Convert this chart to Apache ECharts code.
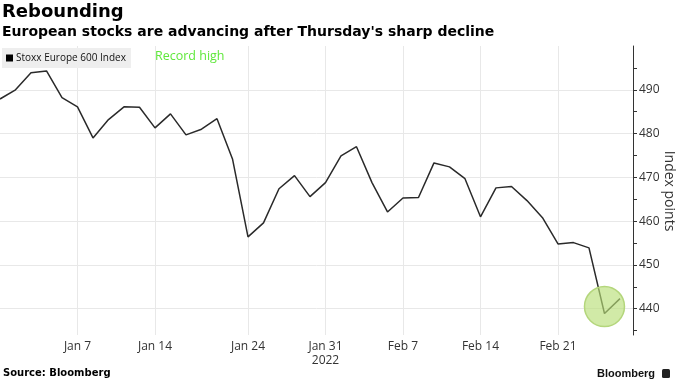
<!DOCTYPE html>
<html><head><meta charset="utf-8">
<script src="https://cdn.jsdelivr.net/npm/echarts@6/dist/echarts.min.js"></script>
<style>html,body{margin:0;padding:0;background:#fff}#c{width:679px;height:382px}</style>
</head><body><div id="c"></div>
<script>
const dates = ['Dec 31','Jan 3','Jan 4','Jan 5','Jan 6','Jan 7','Jan 10','Jan 11','Jan 12','Jan 13','Jan 14',
 'Jan 17','Jan 18','Jan 19','Jan 20','Jan 21','Jan 24','Jan 25','Jan 26','Jan 27','Jan 28',
 'Jan 31','Feb 1','Feb 2','Feb 3','Feb 4','Feb 7','Feb 8','Feb 9','Feb 10','Feb 11',
 'Feb 14','Feb 15','Feb 16','Feb 17','Feb 18','Feb 21','Feb 22','Feb 23','Feb 24','Feb 25'];
const stoxx = [487.9,490.0,493.9,494.3,488.2,486.1,479.0,483.2,486.1,486.0,481.3,
 484.5,479.7,481.0,483.4,474.2,456.4,459.6,467.4,470.4,465.6,
 468.8,474.9,477.0,468.8,462.1,465.3,465.4,473.3,472.4,469.7,
 461.0,467.6,467.9,464.7,460.8,454.8,455.1,453.9,438.9,442.3];
const xLabelDates = ['Jan 7','Jan 14','Jan 24','Jan 31','Feb 7','Feb 14','Feb 21'];
const yLabels = [440,450,460,470,480,490];
const yTicks = [435,440,445,450,455,460,465,470,475,480,485,490,495];
const highlight = {date:'Feb 24', value:440.5};

const xLabelIdx = xLabelDates.map(d => dates.indexOf(d));
const seriesData = stoxx.map((v,i) => [i, v]);

const chart = echarts.init(document.getElementById('c'));
const axisFont = "'Open Sans', sans-serif";
const gridBox = {left:0, right:46, top:46, bottom:47, containLabel:false, outerBoundsMode:'none'};
chart.setOption({
  animation:false,
  backgroundColor:'#fff',
  title:{
    text:'Rebounding',
    subtext:"European stocks are advancing after Thursday's sharp decline",
    left:2, top:3, padding:0, itemGap:4,
    textStyle:{fontFamily:'DejaVu Sans', fontWeight:'bold', fontSize:18, color:'#000'},
    subtextStyle:{fontFamily:'DejaVu Sans', fontWeight:'bold', fontSize:14, color:'#000'}
  },
  legend:{
    left:2, top:48, padding:[5,5,5,4], backgroundColor:'#eeeeee',
    icon:'rect', itemWidth:7, itemHeight:7, itemGap:0,
    textStyle:{fontFamily:axisFont, fontSize:10, color:'#111', padding:[0,0,0,-2]},
    data:['Stoxx Europe 600 Index']
  },
  grid:[Object.assign({}, gridBox), Object.assign({}, gridBox)],
  xAxis:[{
    type:'value', gridIndex:0, min:0, max:40.84,
    axisLine:{show:false},
    axisTick:{show:false, customValues:xLabelIdx},
    axisLabel:{customValues:xLabelIdx, margin:5, fontFamily:axisFont, fontSize:12, color:'#333', lineHeight:14,
      formatter:v => { const d = dates[Math.round(v)]; return d === 'Jan 31' ? 'Jan 31\n2022' : d; }},
    splitLine:{show:true, lineStyle:{color:'#e8e8e8', width:1}}
  },{
    type:'value', gridIndex:1, min:0, max:40.84, show:false
  }],
  yAxis:[
    {type:'value', gridIndex:0, position:'right', min:434, max:500,
     axisLine:{show:false, onZero:false},
     axisTick:{show:false, customValues:yLabels},
     axisLabel:{customValues:yLabels, margin:6, fontFamily:axisFont, fontSize:12, color:'#333'},
     splitLine:{show:true, lineStyle:{color:'#e8e8e8', width:1}}},
    {type:'value', gridIndex:1, position:'right', min:434, max:500,
     axisLine:{show:true, onZero:false, lineStyle:{color:'#333', width:1}},
     axisTick:{show:true, length:4, customValues:yTicks, lineStyle:{color:'#333'}},
     axisLabel:{show:false}, splitLine:{show:false}}
  ],
  series:[{
    name:'Stoxx Europe 600 Index', type:'line', xAxisIndex:0, yAxisIndex:0, data:seriesData,
    showSymbol:false, symbol:'none',
    itemStyle:{color:'#000'},
    lineStyle:{color:'#2a2a2a', width:1.5},
    markPoint:{
      symbol:'circle', symbolSize:40, silent:true,
      label:{show:false},
      itemStyle:{color:'rgba(185,222,120,0.65)', borderColor:'#b4d67c', borderWidth:1.5},
      data:[{coord:[dates.indexOf(highlight.date), highlight.value]}]
    }
  }],
  graphic:[
    {type:'text', x:669, y:191, rotation:-Math.PI/2,
     style:{text:'Index points', align:'center', verticalAlign:'middle', fill:'#333', font:"14px 'Open Sans', sans-serif"}},
    {type:'text', left:155, top:50, style:{text:'Record high', fill:'#5fe83a', font:"12.5px 'Open Sans', sans-serif"}},
    {type:'text', left:3, top:368, style:{text:'Source: Bloomberg', fill:'#000', font:"bold 10px 'DejaVu Sans', sans-serif"}},
    {type:'text', left:597, top:368, style:{text:'Bloomberg', fill:'#111', font:"bold 11px 'Liberation Sans', sans-serif"}},
    {type:'rect', left:662, top:369, shape:{width:8, height:9, r:1.5}, style:{fill:'#222'}}
  ]
});
</script></body></html>
